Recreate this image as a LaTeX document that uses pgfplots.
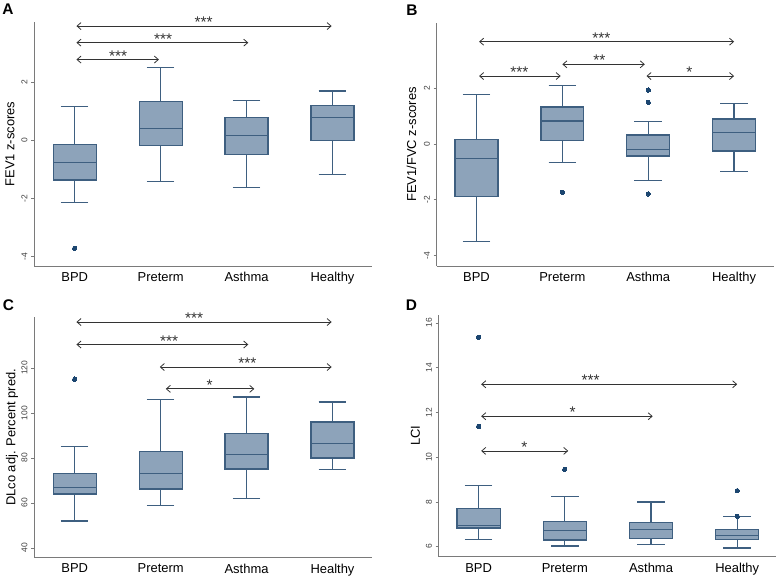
\documentclass[border=0pt]{standalone}
\usepackage{fontspec}
\setmainfont{Liberation Sans}
\usepackage{pgfplots}
\pgfplotsset{compat=1.18}
\usepgfplotslibrary{statistics}
\usetikzlibrary{arrows.meta}
\definecolor{boxfill}{HTML}{8DA3BA}
\definecolor{boxedge}{HTML}{3E5F80}
\definecolor{dotc}{HTML}{1C4670}
\definecolor{arrc}{HTML}{333333}
\definecolor{axgray}{HTML}{7A7A7A}
\definecolor{ticktext}{HTML}{404040}
\tikzset{
  arr/.style={draw=arrc, line width=0.8bp,
    {Straight Barb[length=4bp,width=7bp]}-{Straight Barb[length=4bp,width=7bp]}},
  star/.style={anchor=base, font=\fontsize{15.5}{17}\selectfont, text=arrc, yshift=-1.5bp},
}
\pgfplotsset{
  panel/.style={
    scale only axis, width=338bp, height=244bp,
    axis x line*=bottom, axis y line*=left,
    axis line style={draw=axgray, line width=0.8bp},
    xtick={0,1,2,3}, xticklabels={BPD,Preterm,Asthma,Healthy},
    xtick style={draw=none},
    ytick style={draw=axgray, line width=0.8bp},
    tick align=outside, major tick length=3bp,
    x tick label style={font=\fontsize{13}{15}\selectfont, text=black},
    y tick label style={rotate=90, anchor=south, font=\fontsize{8.5}{10}\selectfont, text=ticktext},
    /pgf/number format/assume math mode=true,
    ylabel style={font=\fontsize{13}{15}\selectfont, at={(axis description cs:0,0.5)}, anchor=center},
    clip=false,
    boxplot/draw direction=y,
    boxplot/box extend=0.5,
    boxplot/whisker extend=0.32,
  },
  bx/.style={draw=boxedge, fill=boxfill, line width=1.2bp, mark=*, mark size=2.2bp,
    mark options={draw=dotc, fill=dotc, line width=0pt}},
}
\begin{document}
\begin{tikzpicture}
\path[use as bounding box] (0,0) rectangle (778bp,578bp);
% ---------------- A ----------------
\begin{axis}[panel, at={(34bp,312bp)}, anchor=south west,
  width=338bp, height=244bp,
  xmin=-0.474, xmax=3.46, ymin=-4.32, ymax=4.06,
  ytick={-4,-2,0,2}, ylabel={FEV1 z-scores}, ylabel style={yshift=24bp}]
\addplot[bx, boxplot prepared={draw position=0, lower whisker=-2.13, lower quartile=-1.37, median=-0.77, upper quartile=-0.15, upper whisker=1.17}] coordinates {(0,-3.71)};
\addplot[bx, boxplot prepared={draw position=1, lower whisker=-1.41, lower quartile=-0.19, median=0.40, upper quartile=1.33, upper whisker=2.49}] coordinates {};
\addplot[bx, boxplot prepared={draw position=2, lower whisker=-1.62, lower quartile=-0.50, median=0.16, upper quartile=0.78, upper whisker=1.35}] coordinates {};
\addplot[bx, boxplot prepared={draw position=3, lower whisker=-1.17, lower quartile=-0.02, median=0.78, upper quartile=1.19, upper whisker=1.69}] coordinates {};
\draw[arr] (axis cs:0.02,3.92) -- (axis cs:2.99,3.92);
\node[star] at (axis cs:1.50,3.92) {***};
\draw[arr] (axis cs:0.02,3.35) -- (axis cs:2.02,3.35);
\node[star] at (axis cs:1.03,3.35) {***};
\draw[arr] (axis cs:0.02,2.77) -- (axis cs:0.98,2.77);
\node[star] at (axis cs:0.505,2.77) {***};
\end{axis}
% ---------------- B ----------------
\begin{axis}[panel, at={(436.5bp,312bp)}, anchor=south west,
  width=337.5bp, height=243.3bp,
  xmin=-0.466, xmax=3.465, ymin=-4.37, ymax=4.34,
  ytick={-4,-2,0,2}, ylabel={FEV1/FVC z-scores}, ylabel style={yshift=25bp}]
\addplot[bx, boxplot prepared={draw position=0, lower whisker=-3.50, lower quartile=-1.89, median=-0.53, upper quartile=0.17, upper whisker=1.78}] coordinates {};
\addplot[bx, boxplot prepared={draw position=1, lower whisker=-0.67, lower quartile=0.12, median=0.82, upper quartile=1.32, upper whisker=2.08}] coordinates {(1,-1.73)};
\addplot[bx, boxplot prepared={draw position=2, lower whisker=-1.31, lower quartile=-0.43, median=-0.19, upper quartile=0.32, upper whisker=0.79}] coordinates {(2,1.93) (2,1.49) (2,-1.79)};
\addplot[bx, boxplot prepared={draw position=3, lower whisker=-0.99, lower quartile=-0.25, median=0.42, upper quartile=0.89, upper whisker=1.44}] coordinates {};
\draw[arr] (axis cs:0.03,3.66) -- (axis cs:3.0,3.66);
\node[star] at (axis cs:1.455,3.66) {***};
\draw[arr] (axis cs:1.0,2.85) -- (axis cs:1.96,2.85);
\node[star] at (axis cs:1.43,2.85) {**};
\draw[arr] (axis cs:0.03,2.43) -- (axis cs:0.98,2.43);
\node[star] at (axis cs:0.50,2.43) {***};
\draw[arr] (axis cs:1.98,2.43) -- (axis cs:3.0,2.43);
\node[star] at (axis cs:2.48,2.43) {*};
\end{axis}
% ---------------- C ----------------
\begin{axis}[panel, at={(34bp,20.7bp)}, anchor=south west,
  width=338bp, height=240bp,
  xmin=-0.474, xmax=3.46, ymin=35.85, ymax=142.5,
  ytick={40,60,80,100,120}, ylabel={DLco adj. Percent pred.}, ylabel style={yshift=22bp}]
\addplot[bx, boxplot prepared={draw position=0, lower whisker=52.0, lower quartile=64.0, median=67.0, upper quartile=73.2, upper whisker=85.0}] coordinates {(0,115.0)};
\addplot[bx, boxplot prepared={draw position=1, lower whisker=59.0, lower quartile=66.2, median=73.2, upper quartile=83.0, upper whisker=105.9}] coordinates {};
\addplot[bx, boxplot prepared={draw position=2, lower whisker=62.1, lower quartile=75.1, median=81.6, upper quartile=91.0, upper whisker=107.1}] coordinates {};
\addplot[bx, boxplot prepared={draw position=3, lower whisker=75.0, lower quartile=80.0, median=86.5, upper quartile=96.0, upper whisker=104.9}] coordinates {};
\draw[arr] (axis cs:0.02,140.4) -- (axis cs:2.99,140.4);
\node[star] at (axis cs:1.39,140.4) {***};
\draw[arr] (axis cs:0.02,130.4) -- (axis cs:2.02,130.4);
\node[star] at (axis cs:1.10,130.4) {***};
\draw[arr] (axis cs:0.99,120.4) -- (axis cs:2.99,120.4);
\node[star] at (axis cs:2.01,120.4) {***};
\draw[arr] (axis cs:1.06,110.7) -- (axis cs:2.09,110.7);
\node[star] at (axis cs:1.57,110.7) {*};
\end{axis}
% ---------------- D ----------------
\begin{axis}[panel, at={(438.5bp,21.3bp)}, anchor=south west,
  width=337.5bp, height=242bp,
  xmin=-0.465, xmax=3.45, ymin=5.55, ymax=16.37,
  ytick={6,8,10,12,14,16}, ylabel={LCI}, ylabel style={yshift=23bp}]
\addplot[bx, boxplot prepared={draw position=0, lower whisker=6.33, lower quartile=6.83, median=6.95, upper quartile=7.71, upper whisker=8.73}] coordinates {(0,15.36) (0,11.37)};
\addplot[bx, boxplot prepared={draw position=1, lower whisker=6.03, lower quartile=6.30, median=6.73, upper quartile=7.12, upper whisker=8.25}] coordinates {(1,9.46)};
\addplot[bx, boxplot prepared={draw position=2, lower whisker=6.09, lower quartile=6.37, median=6.76, upper quartile=7.07, upper whisker=8.00}] coordinates {};
\addplot[bx, boxplot prepared={draw position=3, lower whisker=5.94, lower quartile=6.33, median=6.49, upper quartile=6.75, upper whisker=7.34}] coordinates {(3,7.36) (3,8.50)};
\draw[arr] (axis cs:0.03,13.26) -- (axis cs:3.0,13.26);
\node[star] at (axis cs:1.30,13.26) {***};
\draw[arr] (axis cs:0.03,11.83) -- (axis cs:2.02,11.83);
\node[star] at (axis cs:1.09,11.83) {*};
\draw[arr] (axis cs:0.03,10.28) -- (axis cs:1.04,10.28);
\node[star] at (axis cs:0.53,10.28) {*};
\end{axis}
% panel letters
\node[font=\fontsize{15.5}{18}\bfseries] at (8bp,568.5bp) {A};
\node[font=\fontsize{15.5}{18}\bfseries] at (412bp,568bp) {B};
\node[font=\fontsize{15.5}{18}\bfseries] at (8.5bp,272.5bp) {C};
\node[font=\fontsize{15.5}{18}\bfseries] at (411.5bp,273bp) {D};
\end{tikzpicture}
\end{document}
